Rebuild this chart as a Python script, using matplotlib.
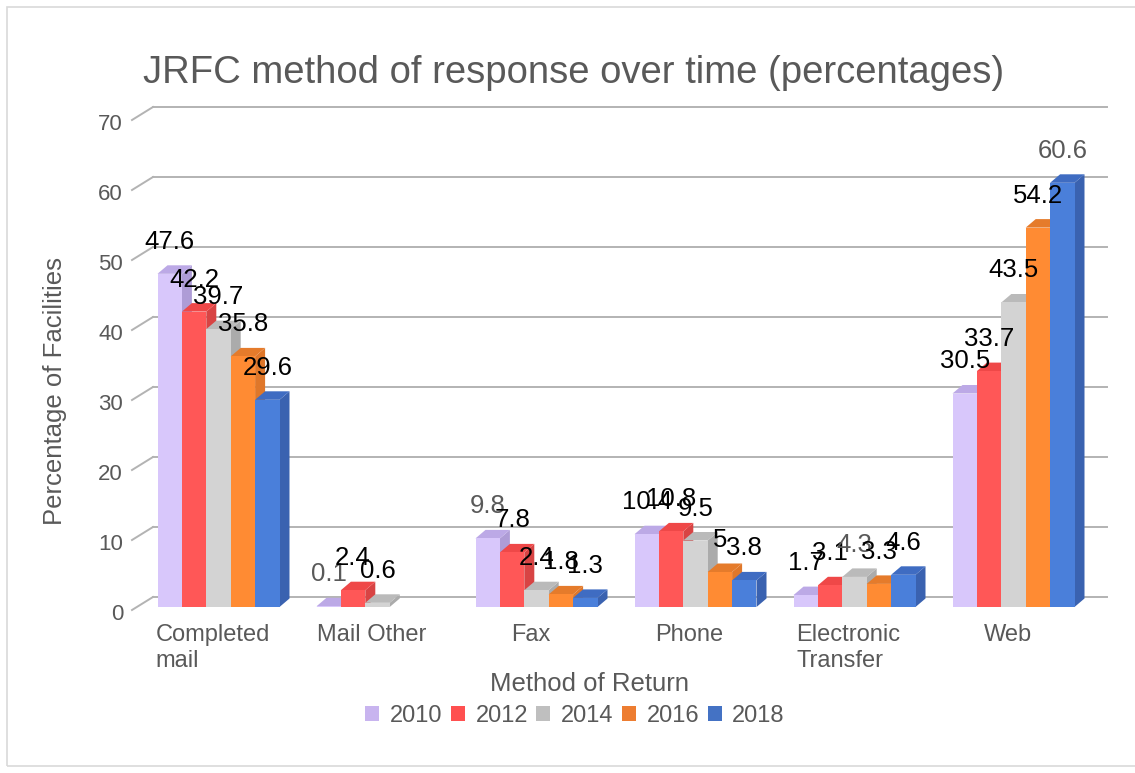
import matplotlib
matplotlib.use("Agg")
import matplotlib.pyplot as plt
from matplotlib.patches import Rectangle, Polygon, Patch

# data
CATEGORIES = ["Completed\nmail", "Mail Other", "Fax", "Phone", "Electronic\nTransfer", "Web"]
YEARS = ["2010", "2012", "2014", "2016", "2018"]
Y2010 = [47.6, 0.1, 9.8, 10.4, 1.7, 30.5]
Y2012 = [42.2, 2.4, 7.8, 10.8, 3.1, 33.7]
Y2014 = [39.7, 0.6, 2.4, 9.5, 4.3, 43.5]
Y2016 = [35.8, None, 1.8, 5, 3.3, 54.2]
Y2018 = [29.6, None, 1.3, 3.8, 4.6, 60.6]
SERIES = [Y2010, Y2012, Y2014, Y2016, Y2018]
YTICKS = [0, 10, 20, 30, 40, 50, 60, 70]

# labels the source renders in gray instead of black
GRAY_LABELS = {(0, 1), (0, 2), (2, 4), (4, 5)}

FRONT = ["#d8c7fb", "#ff5757", "#d3d3d3", "#ff8b33", "#4a7fda"]
TOP = ["#bca9e6", "#ef4848", "#bababa", "#e57b2b", "#3f6cc2"]
SIDE = ["#ae9cd6", "#d84444", "#ababab", "#df772a", "#3a62b0"]
LEGEND = ["#c8b4ef", "#ff5050", "#bfbfbf", "#ed7d31", "#4472c4"]
TEXT = "#595959"
GRID = "#b3b3b3"

W, H = 1135, 773
PX_CAT = 159.0   # pixels per category
PX_VAL = 7.0     # pixels per percentage point
X0_PX, Y0_PX = 139.0, 607.0

BAR_W = 24.4 / PX_CAT
DX_BAR, DY_BAR = 10 / PX_CAT, 8.5 / PX_VAL
DX_WALL, DY_WALL = 14 / PX_CAT, 10 / PX_VAL

plt.rcParams["font.family"] = ["Liberation Sans", "DejaVu Sans"]

fig = plt.figure(figsize=(W / 100, H / 100), dpi=100)
ax = fig.add_axes([0, 0, 1, 1])
ax.set_xlim(-0.5 - X0_PX / PX_CAT, -0.5 + (W - X0_PX) / PX_CAT)
ax.set_ylim(-(H - Y0_PX) / PX_VAL, Y0_PX / PX_VAL)
ax.axis("off")

# frame around the chart
fig.patches.append(Rectangle((7 / W, 7 / H), 1.2, 1 - 14 / H, transform=fig.transFigure,
                             fill=False, edgecolor="#d9d9d9", linewidth=1.2))

n = len(CATEGORIES)
left_back = -0.5 + DX_WALL
right_back = n - 0.5 + DX_WALL
for v in YTICKS:
    ax.plot([left_back, right_back], [v + DY_WALL, v + DY_WALL], color=GRID, lw=1.4, zorder=1)
    ax.plot([-0.5 - 7 / PX_CAT, left_back], [v - 3 / PX_VAL, v + DY_WALL], color=GRID, lw=1.4, zorder=1)
    ax.text(-0.5 - 16 / PX_CAT, v - 8 / PX_VAL, str(v), ha="right", va="center",
            fontsize=16, color=TEXT)

group_w = BAR_W * len(SERIES)
for i in range(n):
    for j, ser in enumerate(SERIES):
        v = ser[i]
        if v is None:
            continue
        x0 = i - group_w / 2 + j * BAR_W
        x1 = x0 + BAR_W
        ax.add_patch(Polygon([(x1, 0), (x1 + DX_BAR, DY_BAR), (x1 + DX_BAR, v + DY_BAR), (x1, v)],
                             closed=True, facecolor=SIDE[j], edgecolor="none", zorder=2))
        ax.add_patch(Polygon([(x0, v), (x1, v), (x1 + DX_BAR, v + DY_BAR), (x0 + DX_BAR, v + DY_BAR)],
                             closed=True, facecolor=TOP[j], edgecolor="none", zorder=2))
        ax.add_patch(Rectangle((x0, 0), BAR_W, v, facecolor=FRONT[j], edgecolor="none", zorder=2))

for i in range(n):
    for j, ser in enumerate(SERIES):
        v = ser[i]
        if v is None:
            continue
        xc = i - group_w / 2 + (j + 0.5) * BAR_W
        col = TEXT if (j, i) in GRAY_LABELS else "black"
        ax.text(xc, v + 32 / PX_VAL, f"{v:g}", ha="center", va="center",
                fontsize=18.5, color=col, zorder=5)

for i, cat in enumerate(CATEGORIES):
    ax.text(i - 6 / PX_CAT, -17 / PX_VAL, cat, ha="center", va="top", multialignment="left",
            fontsize=17, color=TEXT, linespacing=1.25)

fig.text(574 / W, 1 - 73 / H, "JRFC method of response over time (percentages)",
         ha="center", va="center", fontsize=27.5, color=TEXT)
fig.text(590 / W, 1 - 684 / H, "Method of Return", ha="center", va="center",
         fontsize=18.5, color=TEXT)
fig.text(55 / W, 1 - 391 / H, "Percentage of Facilities", ha="center", va="center",
         rotation=90, fontsize=18.5, color=TEXT)

handles = [Patch(facecolor=c, edgecolor="none") for c in LEGEND]
leg = fig.legend(handles, YEARS, loc="center", bbox_to_anchor=(575 / W, 1 - 716 / H), ncol=5,
                 frameon=False, fontsize=17, handlelength=0.6, handleheight=0.6,
                 handletextpad=0.45, columnspacing=0.35)
for t in leg.get_texts():
    t.set_color(TEXT)

fig.savefig("out.png", dpi=100, facecolor="white")
